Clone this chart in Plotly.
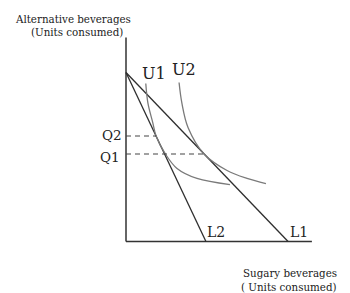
import plotly.graph_objects as go

# Data (in chart units)
budget_L1_x = [0, 9.59]
budget_L1_y = [10, 0]
budget_L2_x = [0, 4.73]
budget_L2_y = [10, 0]

u1_x = [1.17, 1.30, 1.58, 1.78, 2.31, 3.02, 4.20, 6.15]
u1_y = [9.35, 8.17, 7.05, 6.24, 5.21, 4.32, 3.73, 3.37]
u2_x = [3.14, 3.31, 3.67, 4.62, 5.98, 7.16, 8.28]
u2_y = [9.41, 8.17, 6.75, 5.18, 4.20, 3.73, 3.43]

q2_level = 6.24
q2_x_end = 1.78
q1_level = 5.18
q1_x_end = 4.62

y_axis_top = 12.07
x_axis_end = 11.0

FONT = "DejaVu Serif"
fig = go.Figure()

# axes
fig.add_trace(go.Scatter(x=[0, 0], y=[0, y_axis_top], mode="lines",
                         line=dict(color="#333333", width=1.5), hoverinfo="skip"))
fig.add_trace(go.Scatter(x=[0, x_axis_end], y=[0, 0], mode="lines",
                         line=dict(color="#333333", width=1.5), hoverinfo="skip"))
# budget lines
for bx, by in [(budget_L1_x, budget_L1_y), (budget_L2_x, budget_L2_y)]:
    fig.add_trace(go.Scatter(x=bx, y=by, mode="lines",
                             line=dict(color="#2e2e2e", width=1.3), hoverinfo="skip"))
# indifference curves
for cx, cy in [(u1_x, u1_y), (u2_x, u2_y)]:
    fig.add_trace(go.Scatter(x=cx, y=cy, mode="lines",
                             line=dict(color="#7a7a7a", width=1.3, shape="spline", smoothing=1.0),
                             hoverinfo="skip"))
# dashed guides
for lvl, xe in [(q2_level, q2_x_end), (q1_level, q1_x_end)]:
    fig.add_trace(go.Scatter(x=[0, xe], y=[lvl, lvl], mode="lines",
                             line=dict(color="#444444", width=1.1, dash="5px,4px"),
                             hoverinfo="skip"))

ann = [
    dict(x=-3.14, y=13.17, text="Alternative beverages", size=10.3, anchor="center"),
    dict(x=-2.92, y=12.40, text="(Units consumed)", size=10.3, anchor="center"),
    dict(x=12.62, y=-1.88, text="Sugary beverages", size=10.3, anchor="right"),
    dict(x=12.62, y=-2.70, text="( Units consumed)", size=10.3, anchor="right"),
    dict(x=1.66, y=9.93, text="U1", size=16, anchor="center"),
    dict(x=3.43, y=10.18, text="U2", size=16, anchor="center"),
    dict(x=-0.85, y=6.30, text="Q2", size=13.5, anchor="center"),
    dict(x=-0.95, y=5.02, text="Q1", size=13.5, anchor="center"),
    dict(x=5.33, y=0.59, text="L2", size=14, anchor="center"),
    dict(x=10.24, y=0.59, text="L1", size=14, anchor="center"),
]
for a in ann:
    fig.add_annotation(x=a["x"], y=a["y"], xref="x", yref="y", text=a["text"],
                       showarrow=False, xanchor=a["anchor"], yanchor="middle",
                       font=dict(family=FONT, size=a["size"], color="#222222"))

fig.update_layout(
    width=350, height=293, showlegend=False,
    paper_bgcolor="white", plot_bgcolor="white",
    margin=dict(l=0, r=0, t=0, b=0, autoexpand=False),
    xaxis=dict(range=[-126 / 16.9, 224 / 16.9], visible=False, fixedrange=True),
    yaxis=dict(range=[-51.5 / 16.9, 241.5 / 16.9], visible=False, fixedrange=True),
)
fig.write_html("out.html")
